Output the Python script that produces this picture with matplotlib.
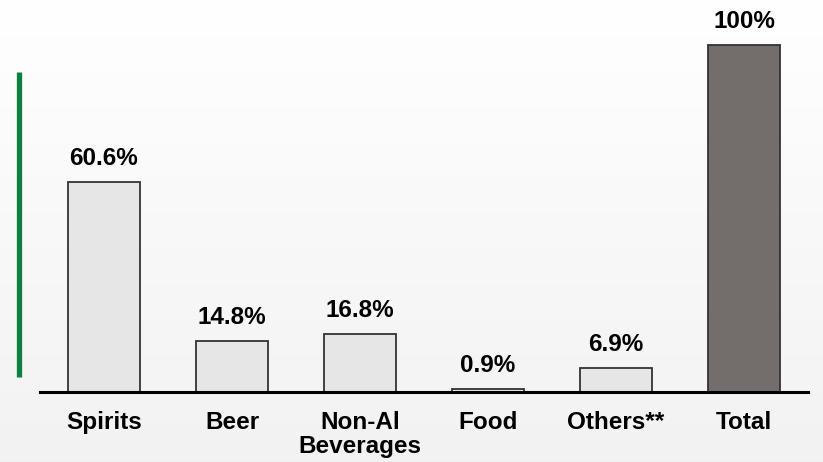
import numpy as np
import matplotlib
matplotlib.use('Agg')
import matplotlib.pyplot as plt
from matplotlib.lines import Line2D

categories = ['Spirits', 'Beer', 'Non-Al\nBeverages', 'Food', 'Others**', 'Total']
values = [60.6, 14.8, 16.8, 0.9, 6.9, 100]
value_labels = ['60.6%', '14.8%', '16.8%', '0.9%', '6.9%', '100%']

plt.rcParams['font.family'] = ['Liberation Sans', 'DejaVu Sans']

W, H = 823, 462
fig = plt.figure(figsize=(W / 100, H / 100), dpi=100)

# soft vertical gradient behind everything
bg = fig.add_axes([0, 0, 1, 1], zorder=-10)
grad = np.linspace(1.0, 0.949, 256).reshape(-1, 1)
bg.imshow(np.dstack([grad, grad, grad]), aspect='auto', extent=[0, 1, 0, 1])
bg.axis('off')

ax = fig.add_axes([40 / W, 70 / H, 768 / W, 392 / H])
ax.patch.set_alpha(0)

x = np.arange(len(categories))
colors = ['#e6e6e6'] * 5 + ['#736e6c']
ax.bar(x, values, width=0.56, color=colors, edgecolor='#333333', linewidth=1.3, zorder=2)

for xi, v, lab in zip(x, values, value_labels):
    ax.annotate(lab, (xi, v), xytext=(0, 12), textcoords='offset points',
                ha='center', va='baseline', fontsize=17.5, fontweight='bold')

ax.set_xlim(-0.5, 5.5)
ax.set_ylim(0, 113)
ax.set_xticks(x)
ax.set_xticklabels(categories, fontsize=17.5, fontweight='bold', linespacing=1.05)
ax.tick_params(axis='x', length=0, pad=14)
ax.set_yticks([])
for s in ['top', 'right', 'left']:
    ax.spines[s].set_visible(False)
ax.spines['bottom'].set_linewidth(2.2)
ax.spines['bottom'].set_zorder(3)

# green accent bar on the left
fig.add_artist(Line2D([19 / W, 19 / W], [1 - 72 / H, 1 - 377 / H],
                      color='#0b8040', linewidth=3.8, solid_capstyle='butt'))

fig.savefig('out.png', dpi=100)
